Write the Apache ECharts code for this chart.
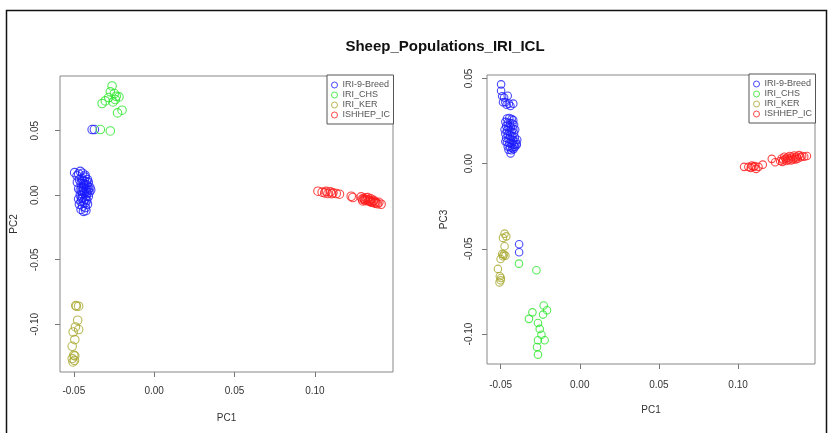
<!DOCTYPE html>
<html>
<head>
<meta charset="utf-8">
<script src="https://cdn.jsdelivr.net/npm/echarts@6/dist/echarts.min.js"></script>
<style>
html,body{margin:0;padding:0;background:#fff;}
#chart{width:829px;height:433px;}
</style>
</head>
<body>
<div id="chart"></div>
<script>
// ---- data ----
const titleText = 'Sheep_Populations_IRI_ICL';
const groupNames = ['IRI-9-Breeds', 'IRI_CHS', 'IRI_KER', 'ISHHEP_ICL'];
const xTickValues = [-0.05, 0, 0.05, 0.10];
const yTickValues = [-0.10, -0.05, 0, 0.05];
const pcXName = 'PC1';
const pcLeftYName = 'PC2';
const pcRightYName = 'PC3';

// left panel: [PC1, PC2]
const breedsPC1PC2 = [
  [-0.0386,0.0509],[-0.0372,0.0509],
  [-0.0495,0.0175],[-0.0480,0.0150],[-0.0460,0.0185],[-0.0445,0.0170],[-0.0470,0.0165],[-0.0430,0.0155],
  [-0.0415,0.0120],[-0.0410,0.0100],[-0.0420,0.0080],[-0.0400,0.0060],[-0.0395,0.0040],[-0.0405,0.0020],
  [-0.0410,-0.0010],[-0.0420,-0.0040],[-0.0430,-0.0060],[-0.0445,-0.0085],[-0.0455,-0.0110],[-0.0440,-0.0125],
  [-0.0425,-0.0120],[-0.0465,-0.0070],[-0.0470,-0.0030],[-0.0460,0.0000],[-0.0450,0.0030],[-0.0440,0.0060],
  [-0.0455,0.0090],[-0.0465,0.0120],[-0.0450,0.0130],[-0.0435,0.0110],[-0.0425,0.0050],[-0.0435,0.0020],
  [-0.0445,-0.0020],[-0.0430,-0.0030],[-0.0420,0.0030],[-0.0440,0.0090],[-0.0450,0.0060],[-0.0460,0.0040],
  [-0.0455,-0.0050],[-0.0440,-0.0050],[-0.0415,-0.0070],[-0.0430,0.0140],[-0.0410,0.0040],[-0.0425,-0.0010],
  [-0.0445,0.0010],[-0.0435,0.0080],[-0.0448,0.0115],[-0.0412,0.0065],[-0.0470,0.0050],[-0.0478,0.0100],
  [-0.0428,-0.0095],[-0.0418,0.0015],[-0.0438,0.0035],[-0.0452,-0.0025],[-0.0422,0.0105]
];
const chsPC1PC2 = [
  [-0.0262,0.0847],[-0.0273,0.0801],[-0.0248,0.0788],[-0.0236,0.0767],[-0.0283,0.0757],[-0.0219,0.0762],
  [-0.0304,0.0731],[-0.0324,0.0711],[-0.0256,0.0723],[-0.0242,0.0742],[-0.0200,0.0659],[-0.0228,0.0638],
  [-0.0335,0.0509],[-0.0273,0.0498]
];
const kerPC1PC2 = [
  [-0.0484,-0.0860],[-0.0470,-0.0860],[-0.0488,-0.0855],[-0.0476,-0.0969],[-0.0490,-0.1021],[-0.0470,-0.1041],
  [-0.0504,-0.1060],[-0.0494,-0.1119],[-0.0510,-0.1171],[-0.0500,-0.1240],[-0.0494,-0.1245],[-0.0510,-0.1266],
  [-0.0496,-0.1280],[-0.0505,-0.1292]
];
const iclPC1PC2 = [
  [0.1019,0.0031],[0.1045,0.0024],[0.1061,0.0018],[0.1081,0.0013],[0.1096,0.0026],[0.1112,0.0018],
  [0.1133,0.0013],[0.1153,0.0008],[0.1226,-0.0008],[0.1236,-0.0018],[0.1070,0.0030],[0.1105,0.0012],
  [0.1288,-0.0013],[0.1298,-0.0044],[0.1309,-0.0033],[0.1318,-0.0020],[0.1329,-0.0018],[0.1335,-0.0045],
  [0.1340,-0.0039],[0.1348,-0.0028],[0.1352,-0.0055],[0.1360,-0.0052],[0.1365,-0.0040],[0.1372,-0.0062],
  [0.1381,-0.0059],[0.1390,-0.0066],[0.1398,-0.0055],[0.1412,-0.0070],[0.1305,-0.0025],[0.1325,-0.0035],
  [0.1345,-0.0048],[0.1375,-0.0050],[0.1295,-0.0030],[0.1315,-0.0042]
];

// right panel: [PC1, PC3]
const breedsPC1PC3 = [
  [-0.0383,-0.0473],[-0.0383,-0.0520],
  [-0.0497,0.0465],[-0.0497,0.0428],[-0.0490,0.0395],[-0.0478,0.0388],[-0.0470,0.0360],[-0.0455,0.0398],
  [-0.0448,0.0352],[-0.0438,0.0338],[-0.0420,0.0352],[-0.0485,0.0360],[-0.0462,0.0345],
  [-0.0460,0.0265],[-0.0445,0.0268],[-0.0430,0.0262],[-0.0420,0.0255],[-0.0470,0.0245],[-0.0455,0.0240],
  [-0.0440,0.0238],[-0.0425,0.0235],[-0.0415,0.0228],[-0.0465,0.0220],[-0.0450,0.0215],[-0.0435,0.0212],
  [-0.0420,0.0205],[-0.0475,0.0200],[-0.0460,0.0195],[-0.0445,0.0190],[-0.0430,0.0185],[-0.0415,0.0180],
  [-0.0470,0.0175],[-0.0455,0.0170],[-0.0440,0.0165],[-0.0425,0.0160],[-0.0410,0.0155],[-0.0465,0.0150],
  [-0.0450,0.0145],[-0.0435,0.0140],[-0.0420,0.0135],[-0.0405,0.0130],[-0.0460,0.0125],[-0.0445,0.0120],
  [-0.0430,0.0115],[-0.0415,0.0110],[-0.0400,0.0108],[-0.0455,0.0100],[-0.0440,0.0095],[-0.0425,0.0092],
  [-0.0410,0.0098],[-0.0450,0.0082],[-0.0432,0.0078],[-0.0418,0.0085],[-0.0398,0.0115],[-0.0437,0.0060],
  [-0.0470,0.0130],[-0.0408,0.0200],[-0.0395,0.0140]
];
const chsPC1PC3 = [
  [-0.0384,-0.0587],[-0.0274,-0.0626],[-0.0228,-0.0833],[-0.0207,-0.0861],[-0.0232,-0.0886],[-0.0299,-0.0873],
  [-0.0321,-0.0911],[-0.0264,-0.0935],[-0.0253,-0.0970],[-0.0242,-0.1004],[-0.0222,-0.1037],[-0.0264,-0.1037],
  [-0.0270,-0.1076],[-0.0264,-0.1121]
];
const kerPC1PC3 = [
  [-0.0475,-0.0411],[-0.0464,-0.0427],[-0.0485,-0.0436],[-0.0475,-0.0485],[-0.0480,-0.0534],[-0.0470,-0.0540],
  [-0.0490,-0.0530],[-0.0485,-0.0544],[-0.0500,-0.0560],[-0.0517,-0.0618],[-0.0505,-0.0661],[-0.0498,-0.0671],
  [-0.0507,-0.0697],[-0.0500,-0.0685]
];
const iclPC1PC3 = [
  [0.1038,-0.0019],[0.1065,-0.0019],[0.1087,-0.0012],[0.1097,-0.0019],[0.1114,-0.0031],[0.1129,-0.0019],
  [0.1156,-0.0006],[0.1213,0.0028],[0.1234,0.0008],[0.1080,-0.0025],[0.1105,-0.0015],
  [0.1266,0.0015],[0.1275,0.0030],[0.1285,0.0020],[0.1292,0.0040],[0.1300,0.0028],[0.1310,0.0035],
  [0.1318,0.0022],[0.1325,0.0045],[0.1332,0.0030],[0.1340,0.0040],[0.1348,0.0025],[0.1355,0.0048],
  [0.1362,0.0035],[0.1370,0.0042],[0.1378,0.0030],[0.1385,0.0050],[0.1395,0.0038],[0.1405,0.0045],
  [0.1418,0.0040],[0.1435,0.0045],[0.1280,0.0010],[0.1305,0.0015],[0.1335,0.0018],[0.1365,0.0025]
];

// ---- styling ----
const groupColors = ['#1a1aff', '#2ae62a', '#a6a62c', '#ff1a1a'];
const FONT = 'Liberation Sans, Arial, Helvetica, sans-serif';
const leftData = [breedsPC1PC2, chsPC1PC2, kerPC1PC2, iclPC1PC2];
const rightData = [breedsPC1PC3, chsPC1PC3, kerPC1PC3, iclPC1PC3];

const fmt = v => v.toFixed(2);

function xAxisCfg(gi, gap, margin) {
  return {
    type: 'value', gridIndex: gi, min: -0.0586, max: 0.1486,
    name: pcXName, nameLocation: 'middle', nameGap: gap,
    nameTextStyle: { fontFamily: FONT, fontSize: 10, color: '#333' },
    axisLine: { show: false, onZero: false },
    axisTick: { show: true, length: 5, lineStyle: { color: '#777' }, customValues: xTickValues },
    axisLabel: { show: true, margin: margin, fontFamily: FONT, fontSize: 10, color: '#333',
                 customValues: xTickValues, formatter: fmt },
    splitLine: { show: false }
  };
}
function yAxisCfg(gi, name, min, max, gap, margin) {
  return {
    type: 'value', gridIndex: gi, min: min, max: max,
    name: name, nameLocation: 'middle', nameGap: gap, nameRotate: 90,
    nameTextStyle: { fontFamily: FONT, fontSize: 10, color: '#333' },
    axisLine: { show: false, onZero: false },
    axisTick: { show: true, length: 5, lineStyle: { color: '#777' }, customValues: yTickValues },
    axisLabel: { show: true, rotate: 90, margin: margin, fontFamily: FONT, fontSize: 10, color: '#333',
                 customValues: yTickValues, formatter: fmt },
    splitLine: { show: false }
  };
}

const series = [];
[leftData, rightData].forEach((panel, gi) => {
  panel.forEach((d, i) => {
    series.push({
      type: 'scatter', name: groupNames[i], xAxisIndex: gi, yAxisIndex: gi,
      data: d, symbol: 'circle', symbolSize: gi === 0 ? 8.5 : 7.5,
      itemStyle: { color: 'rgba(0,0,0,0)', borderColor: groupColors[i], borderWidth: 1.1 },
      emphasis: { disabled: true }
    });
  });
});

function legendCfg(left, top) {
  return {
    left: left, top: top, orient: 'vertical',
    backgroundColor: '#fff', borderColor: '#555', borderWidth: 1,
    padding: [5, 2, 4, 4], itemGap: 0, itemWidth: 6, itemHeight: 6,
    selectedMode: false,
    textStyle: { fontFamily: FONT, fontSize: 9, color: '#555', lineHeight: 10,
                 width: 49, overflow: 'truncate', ellipsis: '' },
    data: groupNames.map((n, i) => ({
      name: n, icon: 'circle',
      itemStyle: { color: 'rgba(0,0,0,0)', borderColor: groupColors[i], borderWidth: 1 }
    }))
  };
}

const chart = echarts.init(document.getElementById('chart'), null, { renderer: 'canvas' });
chart.setOption({
  animation: false,
  backgroundColor: '#fff',
  title: {
    text: titleText, left: 440, top: 34, textAlign: 'center',
    textStyle: { fontFamily: FONT, fontSize: 15, fontWeight: 'bold', color: '#111' }
  },
  graphic: [{
    type: 'rect', silent: true, z: -1,
    shape: { x: 6.5, y: 10.5, width: 820, height: 440 },
    style: { fill: 'none', stroke: '#111', lineWidth: 1.5 }
  }],
  grid: [
    { left: 60, top: 76, width: 333, height: 296, show: true, borderColor: '#888', borderWidth: 1,
      backgroundColor: 'transparent', outerBoundsMode: 'none', containLabel: false },
    { left: 487, top: 75, width: 328, height: 289, show: true, borderColor: '#888', borderWidth: 1,
      backgroundColor: 'transparent', outerBoundsMode: 'none', containLabel: false }
  ],
  xAxis: [xAxisCfg(0, 41, 14), xAxisCfg(1, 41, 16)],
  yAxis: [yAxisCfg(0, pcLeftYName, -0.137, 0.0924, 41, 20),
          yAxisCfg(1, pcRightYName, -0.1176, 0.052, 38, 13)],
  legend: [legendCfg(327, 75), legendCfg(749, 74)],
  series: series
});
</script>
</body>
</html>
